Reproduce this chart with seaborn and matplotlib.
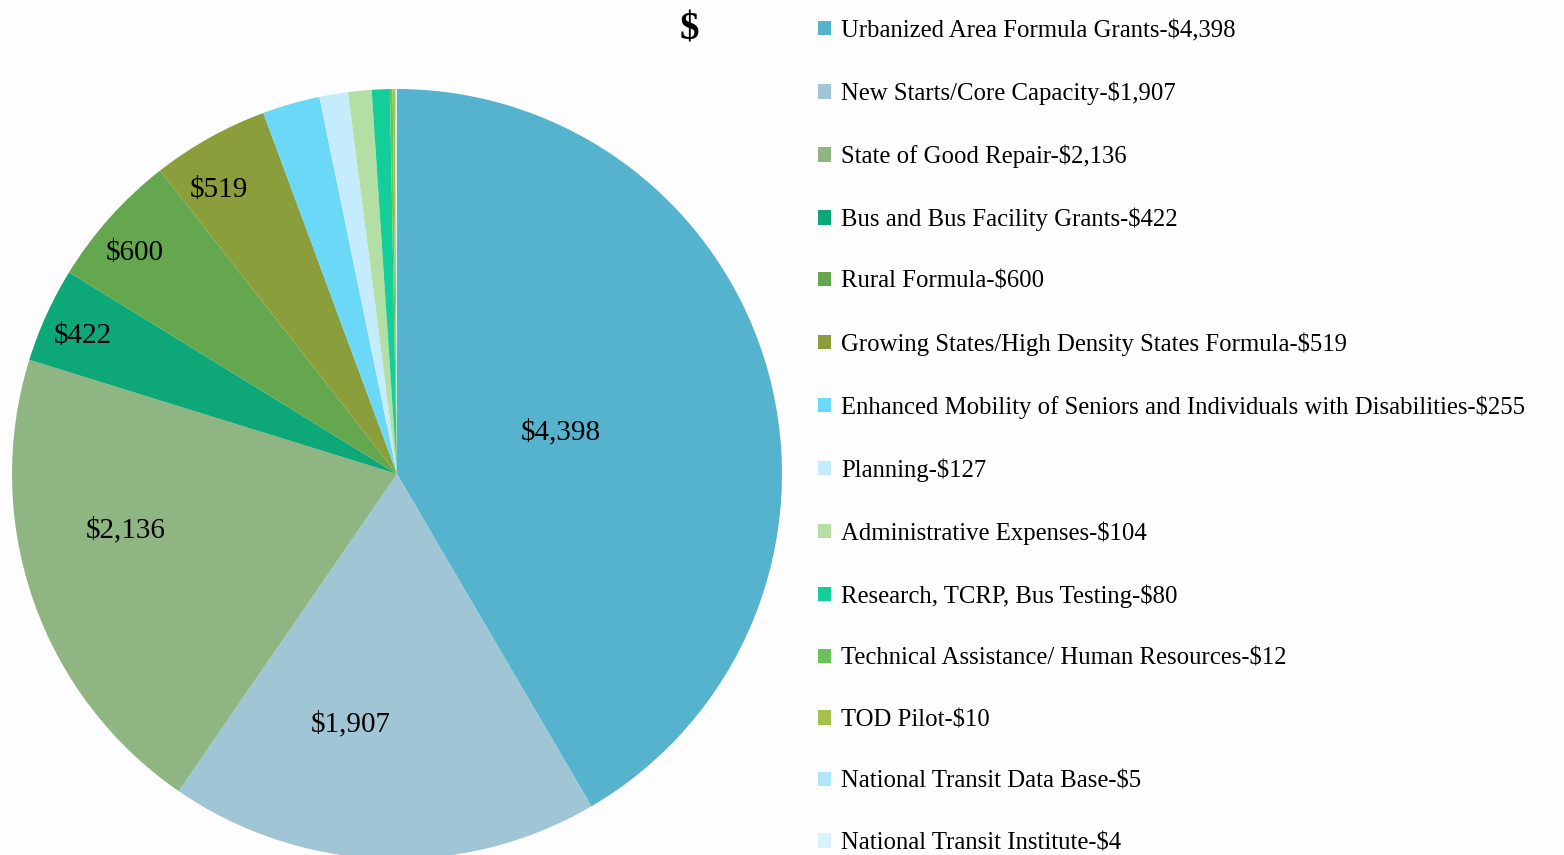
import matplotlib
matplotlib.use("Agg")
import matplotlib.pyplot as plt
import seaborn as sns
import numpy as np

categories = [
    "Urbanized Area Formula Grants",
    "New Starts/Core Capacity",
    "State of Good Repair",
    "Bus and Bus Facility Grants",
    "Rural Formula",
    "Growing States/High Density States Formula",
    "Enhanced Mobility of Seniors and Individuals with Disabilities",
    "Planning",
    "Administrative Expenses",
    "Research, TCRP, Bus Testing",
    "Technical Assistance/ Human Resources",
    "TOD Pilot",
    "National Transit Data Base",
    "National Transit Institute",
]
values = [4398, 1907, 2136, 422, 600, 519, 255, 127, 104, 80, 12, 10, 5, 4]
colors = ["#56b3ce", "#a0c5d4", "#8fb682", "#0ea878", "#65a74e", "#8a9f3c",
          "#6bd8f8", "#c4ecfc", "#b3dea4", "#13ce98", "#6cc25a", "#a4c24b",
          "#b0e6fa", "#daf2fc"]
label_radius = [0.44, 0.66, 0.72, 0.89, 0.89, 0.87]
label_shift_cw = [0.7, 8.4, 7.5, -0.7, -1.7, -3.0]

sns.set_theme(style="white")
plt.rcParams["font.family"] = ["Liberation Serif", "DejaVu Serif"]
plt.rcParams["text.color"] = "black"

W, H = 1564, 855
fig = plt.figure(figsize=(W / 100, H / 100), dpi=100)
fig.patch.set_facecolor("#fdfdfd")

R = 385.0
cx, cy = 397.0, 474.0
axw = 800
ax = fig.add_axes([0, 0, axw / W, 1])
wedges, _ = ax.pie(values, colors=colors, startangle=90, counterclock=False,
                   radius=1.0, wedgeprops=dict(linewidth=0))
ax.set_aspect("auto")
ax.set_xlim(-cx / R, (axw - cx) / R)
ax.set_ylim(-(H - cy) / R, cy / R)
ax.axis("off")

for w, v, r, s in zip(wedges, values, label_radius, label_shift_cw):
    mid = np.deg2rad((w.theta1 + w.theta2) / 2 - s)
    ax.text(r * np.cos(mid), r * np.sin(mid), f"${v:,}", ha="center", va="center",
            fontsize=21, color="black")

labels = [f"{c}-${v:,}" for c, v in zip(categories, values)]
leg = fig.legend(wedges, labels, loc="upper left", bbox_to_anchor=(818 / W, 1 - 20 / H),
                 frameon=False, fontsize=17.8, labelspacing=1.6, handlelength=0.52,
                 handleheight=0.52, handletextpad=0.42, borderaxespad=0, borderpad=0)
for t in leg.get_texts():
    t.set_color("black")

fig.text(689 / W, 1 - 30 / H, "$", ha="center", va="center", fontsize=28,
         fontweight="bold", color="black")

fig.savefig("out.png", dpi=100, facecolor=fig.get_facecolor())
